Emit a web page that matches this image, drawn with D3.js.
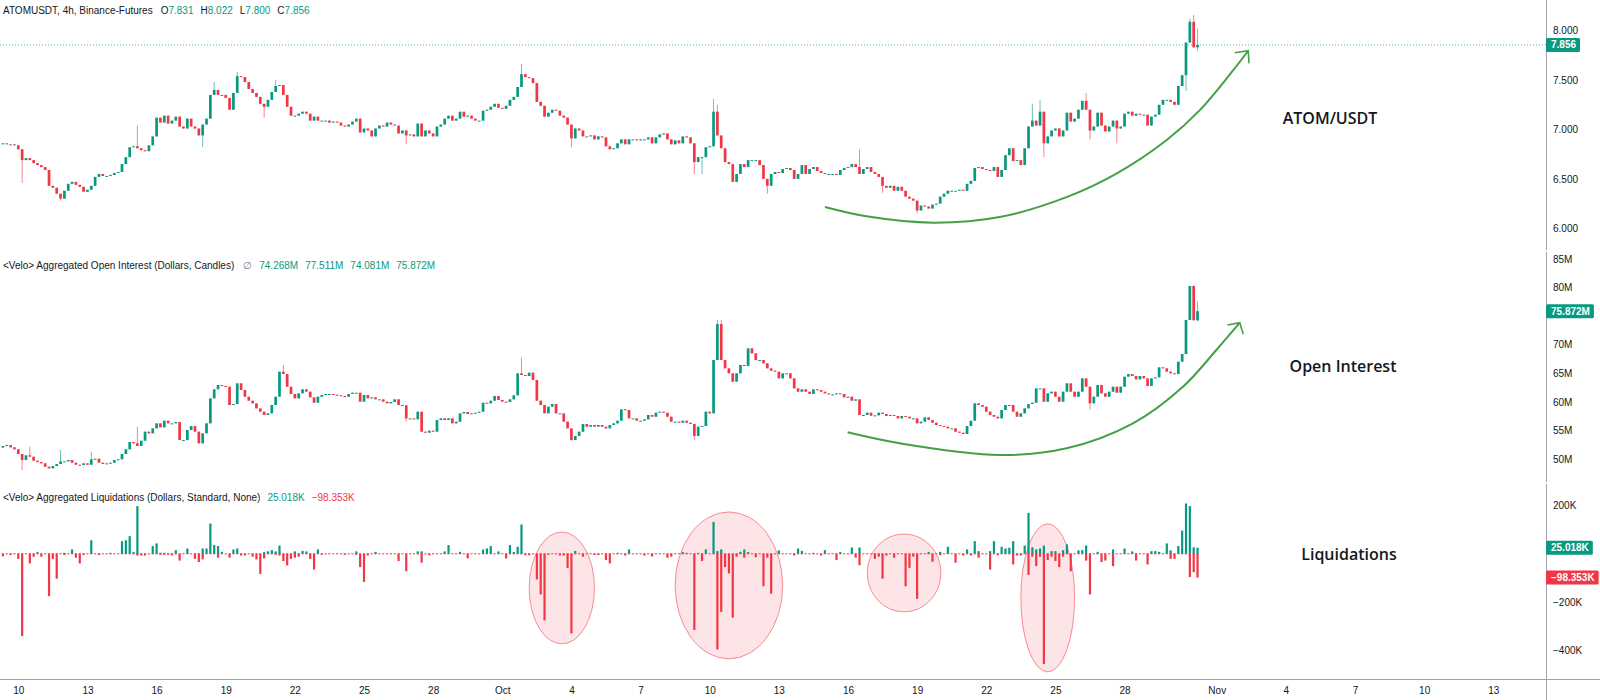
<!DOCTYPE html>
<html><head><meta charset="utf-8">
<script src="https://cdn.jsdelivr.net/npm/d3@7"></script>
<style>
body{margin:0;background:#fff;}
svg{display:block;}
text{font-family:"Liberation Sans",Arial,sans-serif;}
.big{font-family:"Open Sans","Noto Sans",sans-serif;font-weight:600;}
</style>
</head><body>
<svg id="c" width="1600" height="700"></svg>
<script>
// ---------------- DATA ----------------
const startTime = Date.UTC(2023, 8, 9, 8); // first 4h bar (Sep 9, 08:00 UTC)
const barHours = 4;

const priceOpenFirst = 6.85;
const priceClose = [
6.86,6.85,6.85,6.84,6.80,6.69,6.71,6.69,6.66,6.64,
6.62,6.59,6.43,6.41,6.35,6.30,6.38,6.45,6.47,6.44,
6.42,6.37,6.39,6.43,6.52,6.55,6.53,6.53,6.54,6.56,
6.57,6.65,6.72,6.82,6.83,6.81,6.79,6.78,6.84,6.93,
7.12,7.07,7.14,7.06,7.09,7.13,7.03,7.01,7.11,7.03,
7.01,6.94,7.05,7.11,7.35,7.40,7.35,7.35,7.32,7.20,
7.37,7.54,7.53,7.48,7.41,7.37,7.33,7.26,7.23,7.30,
7.38,7.44,7.45,7.35,7.23,7.14,7.14,7.16,7.18,7.16,
7.09,7.13,7.09,7.09,7.09,7.07,7.08,7.07,7.04,7.03,
7.05,7.08,7.11,6.97,7.01,6.99,6.93,7.01,7.04,7.03,
7.07,7.05,7.04,6.96,
6.99,6.94,6.95,6.93,7.06,6.93,6.99,6.96,6.93,7.03,
7.05,7.11,7.14,7.09,7.11,7.18,7.13,7.14,7.11,7.09,
7.09,7.19,7.20,7.23,7.26,7.22,7.21,7.24,7.30,7.33,
7.43,7.56,7.53,7.52,7.47,7.28,7.24,7.13,7.17,7.20,
7.19,7.14,7.12,7.05,6.91,7.01,6.99,6.93,6.93,6.94,
6.90,6.93,6.92,6.83,6.80,6.81,6.86,6.90,6.85,6.90,
6.90,6.89,6.90,6.90,6.92,6.86,6.92,6.95,6.96,6.90,
6.85,6.89,6.86,6.93,6.92,6.86,6.67,6.72,6.72,6.82,
6.83,7.18,6.94,6.81,6.67,6.65,6.47,6.55,6.65,6.62,
6.69,6.69,6.69,6.64,6.50,6.43,6.55,6.57,6.56,6.60,
6.61,6.59,6.50,6.55,
6.64,6.55,6.60,6.62,6.58,6.56,6.55,6.55,6.55,6.54,
6.59,6.61,6.62,6.65,6.62,6.55,6.60,6.62,6.57,6.55,
6.52,6.43,6.41,6.43,6.38,6.42,6.38,6.32,6.30,6.28,
6.18,6.23,6.22,6.20,6.24,6.25,6.32,6.35,6.38,6.38,
6.38,6.39,6.38,6.45,6.48,6.61,6.62,6.60,6.59,6.58,
6.62,6.52,6.59,6.74,6.81,6.68,6.69,6.64,6.81,7.03,
7.09,7.04,7.18,6.86,6.93,6.99,7.01,6.93,6.99,7.17,
7.08,7.11,7.20,7.29,7.20,6.99,7.03,7.17,7.04,6.98,
7.03,7.09,7.01,7.03,7.16,7.18,7.14,7.16,7.15,7.15,
7.04,7.13,7.15,7.25,7.30,7.30,7.28,7.25,7.44,7.55,
7.88,8.09,7.831,7.856
];
// [bar, high, low] where the wick reaches beyond the body
const priceWicks = [
[5,null,6.46],[15,null,6.28],[35,7.04,null],[52,null,6.82],[55,7.48,null],[61,7.58,null],
[68,null,7.12],[71,7.50,null],[105,null,6.85],[135,7.66,null],[148,null,6.82],[180,null,6.55],
[182,null,6.55],[185,7.31,null],[186,7.25,null],[199,null,6.35],[223,6.80,null],[229,null,6.36],
[238,null,6.15],[268,7.26,null],[270,7.30,null],[271,null,6.72],[282,7.37,null],[283,null,6.90],
[290,null,6.86],[308,null,7.39],[309,8.12,null],[310,8.16,null],[311,8.022,7.800]
];

const oiOpenFirst = 52.0;
const oiClose = [
52.27,52.44,52.04,51.69,50.87,49.82,50.64,50.40,49.70,49.47,
49.24,48.65,48.36,48.77,49.12,49.59,49.59,49.82,49.35,49.00,
48.94,49.24,49.00,49.94,50.05,49.35,49.12,49.24,49.35,49.82,
49.94,50.87,51.69,52.97,52.74,52.27,53.20,54.78,54.49,55.36,
56.24,55.54,56.70,56.24,56.24,56.47,53.32,53.32,55.07,55.77,
54.78,52.74,54.49,56.24,60.61,62.19,62.95,62.77,62.65,59.45,
59.62,63.24,62.07,60.90,60.20,59.74,58.86,58.28,57.70,57.99,
59.45,60.90,65.28,64.87,62.65,61.37,60.61,61.49,62.19,61.78,
60.79,59.85,60.90,61.20,61.37,61.37,61.25,61.14,61.02,60.90,
61.37,61.60,61.60,60.03,61.20,60.61,60.79,60.44,60.44,60.03,
59.74,59.97,60.44,59.45,
59.39,57.11,57.11,56.94,58.28,54.78,54.60,54.95,54.78,56.82,
57.11,56.82,57.11,56.24,56.53,57.99,58.22,57.87,57.99,58.10,
58.28,59.85,59.74,60.20,61.02,60.32,60.03,59.97,60.44,61.14,
64.99,64.70,64.52,65.11,63.82,60.20,59.45,57.99,59.15,59.62,
57.99,57.99,56.53,55.36,53.32,54.02,54.78,56.12,55.65,55.95,
55.65,55.95,55.65,55.36,55.95,56.24,56.70,58.69,58.57,57.11,
57.11,56.70,56.70,56.94,57.70,57.40,58.10,58.28,58.10,57.40,
56.53,56.53,56.35,56.70,56.35,56.12,54.02,55.65,55.77,58.28,
57.99,67.32,73.62,67.32,65.86,64.99,63.53,64.99,66.45,66.27,
69.36,68.49,67.32,67.32,66.74,65.86,65.46,65.28,64.11,64.99,
64.99,64.11,62.36,61.78,
62.19,61.78,61.37,62.19,62.07,61.78,61.49,61.31,61.31,61.49,
61.37,60.79,60.90,60.20,60.44,57.70,57.70,58.10,57.58,57.64,
58.10,57.87,57.52,57.70,57.52,57.11,57.52,57.40,57.11,57.11,
56.24,56.53,57.29,56.82,56.35,55.95,55.77,55.65,55.36,55.36,
54.78,54.60,54.37,55.77,56.70,59.74,59.45,59.15,58.28,57.70,
57.40,57.11,58.57,59.45,59.45,58.28,57.40,57.99,58.86,59.62,
59.85,62.36,62.36,60.03,61.49,61.78,60.90,60.03,61.78,63.24,
61.78,60.90,61.78,64.11,62.65,59.74,60.90,62.95,61.49,60.90,
61.78,62.65,61.60,62.65,64.41,64.87,64.52,63.94,64.52,64.11,
62.77,64.11,64.29,66.04,65.86,65.28,64.99,64.87,67.03,68.37,
74.32,80.27,74.268,75.872
];
const oiWicks = [
[5,null,48.07],[7,52.15,null],[15,51.57,null],[23,51.28,null],[35,55.65,null],[73,66.45,null],
[105,null,56.53],[135,67.79,null],[148,null,53.2],[180,null,53.32],[186,74.32,null],[187,74.32,null],
[283,null,58.69],[310,80.4,null],[311,77.511,74.081]
];

// liquidations in thousands of dollars: [bar, value]
const liqShorts = [
[9,7],[16,4],[18,18],[23,56],[28,4],[31,52],[32,56],[33,73],[34,7],[35,197],[39,32],[40,43],[41,4],[42,4],[45,15],
[48,22],[52,22],[53,22],[54,125],[55,36],[56,32],[57,8],[60,18],[61,22],[68,7],[69,10],[70,15],[71,10],[72,34],
[76,10],[78,12],[79,10],[82,18],[92,10],[97,8],
[108,10],[109,10],[115,10],[116,36],[119,8],[125,18],[126,22],[127,32],[129,10],[132,36],[133,7],[134,29],[135,121],
[149,12],[160,4],[163,18],[177,7],[178,4],[181,4],[183,18],[185,132],[186,11],[187,18],[192,8],[193,18],[194,7],
[202,14],[207,22],
[208,12],[211,4],[214,15],[218,8],[221,26],[223,26],[241,8],[244,8],[246,29],[251,18],[253,52],[254,11],[257,11],
[258,52],[260,29],[261,22],[262,25],[263,52],[266,34],[267,169],[268,27],[269,18],[270,22],[271,34],[273,11],[274,11],
[276,15],[277,39],[280,14],[281,15],[282,34],[285,8],[289,18],[292,22],[294,10],[299,11],[300,11],[301,8],[303,43],
[304,14],[306,32],[307,96],[308,208],[309,197],[310,27],[311,25.018]
];
const liqLongs = [
[0,10],[2,5],[4,21],[5,340],[7,40],[8,12],[10,12],[12,175],[13,21],[14,103],[16,5],[19,16],[20,40],[21,5],[25,5],
[35,7],[36,7],[37,7],[41,4],[42,4],[43,4],[44,7],[46,28],[50,21],[51,34],[52,23],[56,16],[59,16],[62,7],[63,7],
[65,12],[66,23],[67,83],[68,19],[71,4],[72,7],[73,30],[74,48],[75,21],[76,16],[77,12],[80,21],[81,65],[83,4],
[89,4],[92,4],[93,55],[94,116],[95,7],[103,30],
[105,72],[109,37],[111,6],[121,19],[131,19],[136,6],[137,6],[139,106],[140,168],[141,275],[142,4],[145,7],[146,7],
[147,59],[148,329],[151,12],[154,5],[155,5],[157,26],[158,40],[162,7],[167,7],[169,11],[173,16],[174,12],[180,315],
[182,30],[186,395],[187,240],[188,55],[189,81],[190,264],[191,12],[193,16],[196,14],[198,134],[199,16],[200,165],[206,7],
[213,7],[217,26],[222,16],[223,47],[227,21],[228,12],[229,103],[230,7],[232,16],[235,134],[236,58],[237,12],[238,186],
[242,33],[244,6],[248,37],[250,7],[252,7],[254,16],[257,65],[259,6],[263,44],[264,7],[265,7],[267,87],[268,12],
[269,51],[270,12],[271,455],[272,26],[273,12],[274,30],[275,55],[276,12],[278,72],[282,28],[283,168],[286,34],
[287,28],[289,51],[295,28],[298,44],[304,21],[305,21],[309,96],[310,76],[311,98.353]
];

// axis ticks (ticks hidden under the value labels are left out)
const priceTicks = [6.0, 6.5, 7.0, 7.5, 8.0];
const oiTicks = [50, 55, 60, 65, 70, 80, 85];
const liqTicks = [-400, -200, 200];
const dateTicks = [[8,10],[8,13],[8,16],[8,19],[8,22],[8,25],[8,28],[9,1],[9,4],[9,7],[9,10],[9,13],[9,16],
  [9,19],[9,22],[9,25],[9,28],[10,1],[10,4],[10,7],[10,10],[10,13]];
const monthNames = ["Jan","Feb","Mar","Apr","May","Jun","Jul","Aug","Sep","Oct","Nov","Dec"];

const headerPrice = {name:"ATOMUSDT, 4h, Binance-Futures", o:"7.831", h:"8.022", l:"7.800", c:"7.856"};
const headerOI = {name:"<Velo> Aggregated Open Interest (Dollars, Candles)", vals:["74.268M","77.511M","74.081M","75.872M"]};
const headerLiq = {name:"<Velo> Aggregated Liquidations (Dollars, Standard, None)", vals:["25.018K","\u221298.353K"]};

// annotations in data space: [bar from, bar to, value top, value bottom]
const liqCircles = [[137,154,90,-372],[175,203,173,-434],[225,244.2,82,-240],[265,279,124,-488]];
// green trend arrows: [bar, value]
const priceArc = [[214.0,6.215],[224.8,6.121],[242.2,6.057],[259.5,6.114],[276.9,6.316],[289.9,6.554],
  [302.9,6.891],[311.6,7.196],[320.3,7.601],[324.2,7.797]];
const priceArrowHead = [[320.7,7.777],[324.2,7.797],[324.4,7.669]];
const oiArc = [[219.9,54.67],[233.5,52.75],[259.5,50.70],[276.9,51.87],[294.2,56.25],[307.2,62.65],
  [315.9,69.07],[322.0,73.85]];
const oiArrowHead = [[318.8,73.45],[322.0,73.85],[322.9,71.82]];

// ---------------- DRAW ----------------
const UP = "#089981", DOWN = "#f23645", TXT = "#131722", AXIS = "#9fa2ab";
const svg = d3.select("#c");
svg.append("rect").attr("width",1600).attr("height",700).attr("fill","#fff");

const axisX = 1546;
const x = d3.scaleUtc()
  .domain([new Date(Date.UTC(2023,8,10)), new Date(Date.UTC(2023,10,13))])
  .range([18.3, 1493.3]);
const barTime = i => new Date(startTime + i * barHours * 3600e3);
const bx = i => x(barTime(i));

const yP = d3.scaleLinear().domain([6, 8]).range([228.3, 30.7]);
const yO = d3.scaleLinear().domain([50, 85]).range([459, 259]);
const yL = d3.scaleLinear().domain([-400, 200]).range([650.6, 505.4]);

function buildCandles(openFirst, closes, wicks){
  const wk = new Map(wicks.map(w => [w[0], w]));
  return closes.map((c, i) => {
    const o = i === 0 ? openFirst : closes[i-1];
    const w = wk.get(i);
    let h = Math.max(o, c), l = Math.min(o, c);
    if (w && w[1] != null) h = Math.max(h, w[1]);
    if (w && w[2] != null) l = Math.min(l, w[2]);
    return {i, o, h, l, c};
  });
}

function drawCandles(g, data, y){
  const bw = 2.7;
  g.selectAll("line.w").data(data).join("line").attr("class","w")
    .attr("x1", d => bx(d.i)).attr("x2", d => bx(d.i))
    .attr("y1", d => y(d.h)).attr("y2", d => y(d.l))
    .attr("stroke", d => d.c >= d.o ? UP : DOWN).attr("stroke-width", 1).attr("stroke-opacity", 0.6);
  g.selectAll("rect.b").data(data).join("rect").attr("class","b")
    .attr("x", d => bx(d.i) - bw/2).attr("width", bw)
    .attr("y", d => y(Math.max(d.o, d.c)))
    .attr("height", d => Math.max(1, Math.abs(y(d.o) - y(d.c))))
    .attr("fill", d => d.c >= d.o ? UP : DOWN);
}

// current price dotted line
const lastPrice = priceClose[priceClose.length-1];
svg.append("line").attr("x1",0).attr("x2",axisX).attr("y1",yP(lastPrice)).attr("y2",yP(lastPrice))
  .attr("stroke",UP).attr("stroke-width",1).attr("stroke-dasharray","1,2").attr("stroke-opacity",0.7);

drawCandles(svg.append("g"), buildCandles(priceOpenFirst, priceClose, priceWicks), yP);
drawCandles(svg.append("g"), buildCandles(oiOpenFirst, oiClose, oiWicks), yO);

// liquidation circles (behind bars)
const gC = svg.append("g");
liqCircles.forEach(c => {
  const x0 = bx(c[0]), x1 = bx(c[1]), y0 = yL(c[2]), y1 = yL(c[3]);
  gC.append("ellipse").attr("cx",(x0+x1)/2).attr("cy",(y0+y1)/2)
    .attr("rx",(x1-x0)/2).attr("ry",(y1-y0)/2)
    .attr("fill","rgba(242,54,69,0.13)").attr("stroke","rgba(242,54,69,0.55)").attr("stroke-width",1);
});

// zero line of liquidations (tiny bars)
const lastBar = priceClose.length - 1;
svg.append("line").attr("x1", bx(0)-1.1).attr("x2", bx(lastBar)+1.1)
  .attr("y1", yL(0)).attr("y2", yL(0)).attr("stroke", DOWN).attr("stroke-width",1)
  .attr("stroke-dasharray", "2.2," + (bx(1)-bx(0)-2.2).toFixed(3));

const lbw = 2.2;
svg.append("g").selectAll("rect").data(liqShorts).join("rect")
  .attr("x", d => bx(d[0]) - lbw/2).attr("width", lbw)
  .attr("y", d => yL(d[1])).attr("height", d => yL(0) - yL(d[1])).attr("fill", UP);
svg.append("g").selectAll("rect").data(liqLongs).join("rect")
  .attr("x", d => bx(d[0]) - lbw/2).attr("width", lbw)
  .attr("y", yL(0)).attr("height", d => yL(-d[1]) - yL(0)).attr("fill", DOWN);

// green trend arrows
function drawArc(pts, head, y){
  const line = d3.line().x(d => bx(d[0])).y(d => y(d[1])).curve(d3.curveCatmullRom.alpha(0.5));
  svg.append("path").attr("d", line(pts)).attr("fill","none").attr("stroke","#43a047").attr("stroke-width",2);
  svg.append("path").attr("d", d3.line().x(d => bx(d[0])).y(d => y(d[1]))(head))
    .attr("fill","none").attr("stroke","#43a047").attr("stroke-width",1.6).attr("stroke-linejoin","miter");
}
drawArc(priceArc, priceArrowHead, yP);
drawArc(oiArc, oiArrowHead, yO);

// big labels
svg.append("text").attr("class","big").attr("x",1330).attr("y",118).attr("text-anchor","middle")
  .attr("dominant-baseline","central").attr("font-size",16).attr("fill",TXT).text("ATOM/USDT");
svg.append("text").attr("class","big").attr("x",1343).attr("y",366).attr("text-anchor","middle")
  .attr("dominant-baseline","central").attr("font-size",16).attr("fill",TXT).text("Open Interest");
svg.append("text").attr("class","big").attr("x",1349).attr("y",554).attr("text-anchor","middle")
  .attr("dominant-baseline","central").attr("font-size",16).attr("fill",TXT).text("Liquidations");

// axes lines
svg.append("line").attr("x1",axisX+0.5).attr("x2",axisX+0.5).attr("y1",0).attr("y2",250).attr("stroke",AXIS);
svg.append("line").attr("x1",axisX+0.5).attr("x2",axisX+0.5).attr("y1",252).attr("y2",482).attr("stroke",AXIS);
svg.append("line").attr("x1",axisX+0.5).attr("x2",axisX+0.5).attr("y1",484).attr("y2",700).attr("stroke",AXIS);
svg.append("line").attr("x1",0).attr("x2",1600).attr("y1",679.5).attr("y2",679.5).attr("stroke",AXIS);

function styleAxis(g){
  g.select(".domain").remove();
  g.selectAll(".tick line").remove();
  g.selectAll("text").attr("fill",TXT).attr("font-size",10).attr("font-family",'"Liberation Sans",Arial,sans-serif');
}
svg.append("g").attr("transform",`translate(${axisX},0)`)
  .call(d3.axisRight(yP).tickValues(priceTicks).tickFormat(d3.format(".3f")).tickSize(0).tickPadding(7)).call(styleAxis);
svg.append("g").attr("transform",`translate(${axisX},0)`)
  .call(d3.axisRight(yO).tickValues(oiTicks).tickFormat(d => d + "M").tickSize(0).tickPadding(7)).call(styleAxis);
svg.append("g").attr("transform",`translate(${axisX},0)`)
  .call(d3.axisRight(yL).tickValues(liqTicks).tickFormat(d => d === 0 ? "0" : (d < 0 ? "\u2212" : "") + Math.abs(d) + "K").tickSize(0).tickPadding(7)).call(styleAxis);

const tickDates = dateTicks.map(d => new Date(Date.UTC(2023, d[0], d[1])));
svg.append("g").attr("transform","translate(0,679)")
  .call(d3.axisBottom(x).tickValues(tickDates)
    .tickFormat(d => d.getUTCDate() === 1 ? monthNames[d.getUTCMonth()] : String(d.getUTCDate()))
    .tickSize(0).tickPadding(8)).call(styleAxis);

// value label boxes on the axis
function valueBox(yv, label, color){
  const g = svg.append("g");
  const t = g.append("text").attr("x",axisX+5).attr("y",yv).attr("dominant-baseline","central")
    .attr("font-size",10).attr("fill","#fff").attr("font-weight","bold").text(label);
  const w = t.node().getComputedTextLength();
  g.insert("rect","text").attr("x",axisX).attr("y",yv-7).attr("width",w+9).attr("height",14).attr("rx",1.5).attr("fill",color);
}
valueBox(yP(lastPrice), headerPrice.c, UP);
valueBox(yO(oiClose[oiClose.length-1]), headerOI.vals[3], UP);
valueBox(yL(liqShorts[liqShorts.length-1][1]), headerLiq.vals[0], UP);
valueBox(yL(-liqLongs[liqLongs.length-1][1]), headerLiq.vals[1], DOWN);

// headers
function header(yv, parts){
  const t = svg.append("text").attr("x",3).attr("y",yv).attr("dominant-baseline","central").attr("font-size",10);
  parts.forEach(p => t.append("tspan").attr("dx",p[2]||0).attr("fill",p[1]).text(p[0]));
}
header(10, [[headerPrice.name,TXT],["O",TXT,8],[headerPrice.o,UP],["H",TXT,7],[headerPrice.h,UP],
  ["L",TXT,7],[headerPrice.l,UP],["C",TXT,7],[headerPrice.c,UP]]);
header(265, [[headerOI.name,TXT],["\u2205","#787b86",9]].concat(headerOI.vals.map(v => [v,UP,7])));
header(497, [[headerLiq.name,TXT],[headerLiq.vals[0],UP,7],[headerLiq.vals[1],DOWN,7]]);
</script>
</body></html>
